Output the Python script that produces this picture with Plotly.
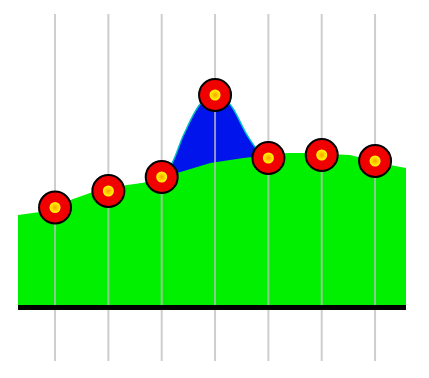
import plotly.graph_objects as go

# ---- data ----
categories = [0, 1, 2, 3, 4, 5, 6]
point_values = [40.0, 46.6, 52.2, 85.0, 59.8, 61.0, 58.6]

# blue area edge (passes through the points)
blue_x = [0, 1, 2.0, 2.2, 2.41, 2.74, 3.0, 3.26, 3.6, 3.8, 4.0, 5, 6]
blue_y = [40.0, 46.6, 52.2, 58.0, 69.0, 81.8, 85.0, 81.8, 69.0, 63.0, 59.8, 61.0, 58.6]

green_x = [-0.694, -0.28, 0.34, 0.71, 1.35, 1.78, 2.29, 2.91, 3.53, 4.35, 4.73, 5.53, 6.28, 6.58]
green_y = [37.0, 38.2, 43.4, 46.2, 49.0, 50.2, 53.8, 57.8, 59.8, 61.8, 61.8, 61.0, 57.0, 55.8]

# ---- axis ranges ----
X_RANGE = [-0.694, 6.58]
Y_RANGE = [-21.4, 117.4]

fig = go.Figure()

# blue spline area
fig.add_trace(go.Scatter(
    x=blue_x, y=blue_y, mode="lines",
    line=dict(shape="spline", smoothing=1.0, color="rgb(0,190,200)", width=1.5),
    fill="tozeroy", fillcolor="rgb(0,20,235)", hoverinfo="skip"))

# green area
fig.add_trace(go.Scatter(
    x=green_x, y=green_y, mode="lines",
    line=dict(color="rgb(0,240,0)", width=0),
    fill="tozeroy", fillcolor="rgb(0,240,0)", hoverinfo="skip"))

# vertical grid lines above the areas
gx, gy = [], []
for c in categories:
    gx += [c, c, None]
    gy += [Y_RANGE[0], Y_RANGE[1], None]
fig.add_trace(go.Scatter(
    x=gx, y=gy, mode="lines",
    line=dict(color="rgba(190,190,190,0.75)", width=2), hoverinfo="skip"))

# red markers
fig.add_trace(go.Scatter(
    x=categories, y=point_values, mode="markers",
    marker=dict(size=32, color="rgb(240,0,0)", line=dict(color="black", width=2)),
    hoverinfo="skip"))

# yellow highlight
fig.add_trace(go.Scatter(
    x=categories, y=point_values, mode="markers",
    marker=dict(size=11, color="rgb(255,255,0)",
                gradient=dict(type="radial", color="rgb(255,160,0)"),
                line=dict(width=0)),
    hoverinfo="skip"))

# baseline
fig.add_shape(type="line", xref="paper", x0=0, x1=1, yref="y", y0=0, y1=0,
              line=dict(color="black", width=5), layer="above")

fig.update_layout(
    width=429, height=378,
    margin=dict(l=10, r=31, t=6, b=25),
    paper_bgcolor="white", plot_bgcolor="white",
    showlegend=False,
    xaxis=dict(range=X_RANGE, showgrid=False, zeroline=False, showticklabels=False,
               showline=False, ticks=""),
    yaxis=dict(range=Y_RANGE, showgrid=False, zeroline=False, showticklabels=False,
               showline=False, ticks=""),
)

fig.write_html("out.html", config={"displayModeBar": False})
